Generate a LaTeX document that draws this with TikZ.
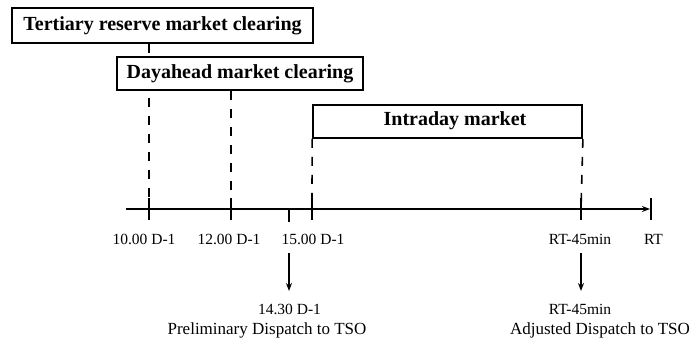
\documentclass[tikz,border=0pt]{standalone}
\usepackage{fontspec}
\setmainfont{Liberation Serif}
\usetikzlibrary{arrows.meta,calc}
\tikzset{
  phasebox/.style={draw, line width=1.8pt, fill=white, inner sep=0pt,
    font=\fontsize{20}{22}\selectfont\bfseries},
  guide/.style={line width=1.6pt, dash pattern=on 9pt off 9pt},
  tickmark/.style={line width=1.8pt},
  timelbl/.style={font=\fontsize{15.5}{17}\selectfont, inner sep=0pt},
  dispatchlbl/.style={font=\fontsize{17}{19}\selectfont, inner sep=0pt},
  pointer/.style={line width=1.6pt, -{Stealth[length=8pt,width=6pt]}},
}
\begin{document}
\begin{tikzpicture}[x=1pt, y=-1pt]
\useasboundingbox (0,0) rectangle (692,343);

% time axis positions
\coordinate (a0)   at (126,209);
\coordinate (aend) at (650,209);
\coordinate (t10)  at (149,209);
\coordinate (t12)  at (231,209);
\coordinate (t1430) at (289,209);
\coordinate (t15)  at (312,209);
\coordinate (t45)  at (581,209);
\coordinate (tRT)  at (651,209);

% market phases
\node[phasebox, minimum width=301pt, minimum height=35pt] (tert) at (162.5,25.5)
  {Tertiary reserve market clearing};
\draw[guide] (tert.south -| t10) -- (t10);

\node[phasebox, minimum width=246pt, minimum height=33pt] (dah) at (240,73.5)
  {Dayahead market clearing};
\draw[guide] (dah.south -| t12) -- (t12);

\node[draw, line width=1.8pt, minimum width=269pt, minimum height=33pt, inner sep=0pt]
  (intra) at (447.5,121.5) {};
\node[font=\fontsize{20}{22}\selectfont\bfseries] (intralbl) at (455,121) {Intraday market};
\draw[guide] (intra.south west) -- (t15);
\draw[guide] (intra.south east) -- (t45);

% axis with ticks
\draw[line width=1.6pt, -{Stealth[length=8pt,width=6pt]}] (a0) -- (aend);
\foreach \t in {t10,t12,t15,t45,tRT}
  \draw[tickmark] ($(\t)+(0,-11)$) -- ($(\t)+(0,11)$);
\draw[tickmark] (t1430) -- ($(t1430)+(0,13)$);

% tick labels
\node[timelbl] (l10) at (144,239) {10.00 D-1};
\node[timelbl] (l12) at (229,239) {12.00 D-1};
\node[timelbl] (l15) at (313,239) {15.00 D-1};
\node[timelbl] (l45) at (580,239) {RT-45min};
\node[timelbl] (lRT) at (653.5,239) {RT};

% dispatch deadlines
\coordinate (p0) at (289,253);
\coordinate (pe) at (289,291);
\coordinate (q0) at (581,253);
\coordinate (qe) at (581,291);
\node[timelbl] (p1) at (289.5,309) {14.30 D-1};
\node[dispatchlbl] (p2) at (267,330) {Preliminary Dispatch to TSO};
\node[timelbl] (q1) at (580,309) {RT-45min};
\node[dispatchlbl] (q2) at (600,330) {Adjusted Dispatch to TSO};
\draw[pointer] (p0) -- (pe);
\draw[pointer] (q0) -- (qe);
\end{tikzpicture}
\end{document}
